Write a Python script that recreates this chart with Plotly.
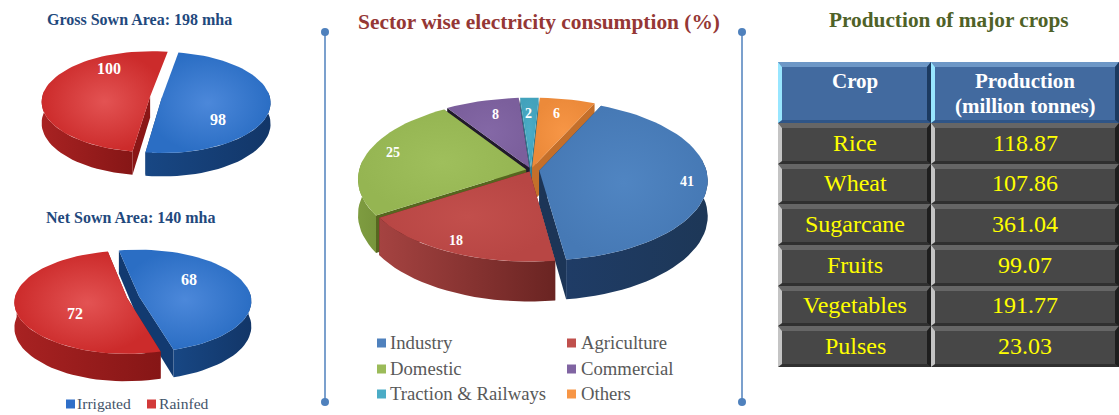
import math
import plotly.graph_objects as go

# ---------------- data ----------------
area_labels = ["Irrigated", "Rainfed"]
gross_values = [98, 100]
net_values = [68, 72]
sector_labels = ["Industry", "Agriculture", "Domestic", "Commercial", "Traction & Railways", "Others"]
sector_values = [41, 18, 25, 8, 2, 6]
crop_names = ["Rice", "Wheat", "Sugarcane", "Fruits", "Vegetables", "Pulses"]
crop_production = ["118.87", "107.86", "361.04", "99.07", "191.77", "23.03"]

SERIF = "Liberation Serif"

# ---------------- slice styles ----------------
AREA_STYLES = [
    dict(top=("#4c88da", "#2b6ec4"), wall=("#184784", "#123668"), cut="#123a70"),
    dict(top=("#e35353", "#cc2b2b"), wall=("#a82222", "#861616"), cut="#8a1616"),
]
SECTOR_STYLES = [
    dict(top=("#5085c2", "#4679b5"), wall=("#1f3c66", "#1d3757"), cut="#1c3557"),
    dict(top=("#c24f4c", "#b84644"), wall=("#a54341", "#6a2422"), cut="#6a2422"),
    dict(top=("#9fbf5c", "#95b552"), wall=("#7e9c40", "#78953c"), cut="#56661f"),
    dict(top=("#8468a6", "#7b5f9c"), wall=("#5d4678", "#5d4678"), cut="#211a2c"),
    dict(top=("#4bacc6", "#42a2bc"), wall=("#2f8097", "#2f8097"), cut="#2f7b90"),
    dict(top=("#f79646", "#ec8a3a"), wall=("#c9732c", "#c9732c"), cut="#c46f2a"),
]

fig = go.Figure()
annotations = []
shapes = []


def add_text(x, y, text, size, color, bold=False, anchor="center", family=SERIF):
    body = f"<b>{text}</b>" if bold else text
    annotations.append(dict(
        x=x, y=y, xref="x", yref="y", text=body, showarrow=False,
        xanchor=anchor, yanchor="middle", align="center",
        font=dict(family=family, size=size, color=color),
    ))


def add_poly(xs, ys, colors, kind):
    if isinstance(colors, str):
        extra = dict(fillcolor=colors)
    else:
        extra = dict(fillgradient=dict(type=kind, colorscale=[[0, colors[0]], [1, colors[1]]]))
    fig.add_trace(go.Scatter(
        x=xs + xs[:1], y=ys + ys[:1], mode="lines", fill="toself",
        line=dict(width=0), hoverinfo="skip", showlegend=False, **extra,
    ))


def draw_pie(values, styles, cx, cy, rx, ry, depth, persp, start, explode, label_spots, label_size,
             show_back_cuts=True):
    """Draw a tilted, extruded pie whose slice angles come from the values."""
    total = sum(values)

    def project(u, v, low=False):
        s = 1 / (1 + persp * v)
        return cx + rx * u * s, cy - ry * v * s + (depth * s if low else 0)

    slices = []
    angle = start
    for i, value in enumerate(values):
        sweep = 360 * value / total
        slices.append((i, angle, angle + sweep))
        angle += sweep

    def depth_key(item):
        return math.cos(math.radians((item[1] + item[2]) / 2))

    for i, a0, a1 in sorted(slices, key=depth_key, reverse=True):
        mid = math.radians((a0 + a1) / 2)
        u0 = explode[i] * math.sin(mid)
        v0 = explode[i] * math.cos(mid)
        steps = max(4, int((a1 - a0) / 3))
        rim = []
        for k in range(steps + 1):
            t = math.radians(a0 + (a1 - a0) * k / steps)
            rim.append((u0 + math.sin(t), v0 + math.cos(t)))
        style = styles[i]

        # cut faces running from the hub to both ends of the arc
        for end in (rim[0], rim[-1]):
            if not show_back_cuts and end[1] > v0:
                continue
            pts = [project(u0, v0), project(*end), project(*end, low=True), project(u0, v0, low=True)]
            add_poly([p[0] for p in pts], [p[1] for p in pts], style["cut"], None)

        # outer wall, only on the part of the arc that faces the viewer
        front = [(u, v) for u, v in rim if v - v0 < 0.15]
        if len(front) > 1:
            upper = [project(u, v) for u, v in front]
            lower = [project(u, v, low=True) for u, v in reversed(front)]
            pts = upper + lower
            add_poly([p[0] for p in pts], [p[1] for p in pts], style["wall"], "horizontal")

        # top face
        pts = [project(u0, v0)] + [project(u, v) for u, v in rim]
        add_poly([p[0] for p in pts], [p[1] for p in pts], style["top"], "radial")

    for value, (deg, radius) in zip(values, label_spots):
        t = math.radians(deg)
        x, y = project(radius * math.sin(t), radius * math.cos(t))
        add_text(x, y, str(value), label_size, "#ffffff", bold=True)


# ---------------- left pies ----------------
add_text(139, 19, "Gross Sown Area: 198 mha", 16, "#1f497d", bold=True)
draw_pie(gross_values, AREA_STYLES, 156, 97, 108, 50, 21, 0.10, 10, [0.055, 0.055],
         [(128, 0.70), (323, 0.76)], 16, show_back_cuts=False)

add_text(130, 217, "Net Sown Area: 140 mha", 16, "#1f497d", bold=True)
draw_pie(net_values, AREA_STYLES, 133, 297, 112, 51, 25, 0.09, -11, [0.055, 0.055],
         [(56, 0.62), (238, 0.59)], 16)

for x, name, color, tx in ((70.5, area_labels[0], "#2f6fc8", 75), (151.5, area_labels[1], "#d23a3a", 157)):
    fig.add_trace(go.Scatter(x=[x], y=[404], mode="markers", hoverinfo="skip", showlegend=False,
                             marker=dict(symbol="square", size=9, color=color)))
    add_text(tx, 403, name, 15.6, "#44546a", anchor="left")

# ---------------- centre pie ----------------
add_text(539, 22, "Sector wise electricity consumption (%)", 21.4, "#953735", bold=True)
draw_pie(sector_values, SECTOR_STYLES, 531, 170, 167, 79, 35, 0.12, 24.6,
         [0.05, 0.02, 0.03, 0.03, 0.03, 0.03],
         [(99, 0.93), (207, 0.9), (285, 0.88), (343, 0.80), (359, 0.78), (12, 0.80)], 14)

legend_cols = [(381.5, 388), (571.5, 578.5)]
legend_rows = [343, 369, 394]
for i, (name, style_color) in enumerate(zip(sector_labels, ["#4f81bd", "#c0504d", "#9bbb59", "#8064a2", "#4bacc6", "#f79646"])):
    mx, tx = legend_cols[i % 2]
    my = legend_rows[i // 2]
    fig.add_trace(go.Scatter(x=[mx], y=[my], mode="markers", hoverinfo="skip", showlegend=False,
                             marker=dict(symbol="square", size=9, color=style_color)))
    add_text(tx, my - 1, name, 18.7, "#595959", anchor="left")

# ---------------- divider rules ----------------
for x in (325, 742):
    shapes.append(dict(type="line", x0=x, x1=x, y0=32, y1=402, line=dict(color="#4f81bd", width=1.5)))
    fig.add_trace(go.Scatter(x=[x, x], y=[32, 402], mode="markers", hoverinfo="skip", showlegend=False,
                             marker=dict(size=8, color="#4f81bd")))

# ---------------- crop table ----------------
add_text(949, 20, "Production of major crops", 21.3, "#4f6228", bold=True)

col_edges = [778, 931, 1119]
col_centers = [855, 1025]
row_edges = [62, 123, 164, 204, 245, 286, 326, 367]
HEAD = dict(body="#426a9f", top="#6d97c6", left="#98e6ff", right="#1c3a60", bottom="#2f5587")
ROW = dict(body="#474747", top="#666666", left="#c4c4c4", right="#1e1e1e", bottom="#303030")


def add_cell(x0, x1, y0, y1, palette):
    lw, rw, tw, bw = 4, 4, 5, 3
    def path(points):
        return "M " + " L ".join(f"{px},{py}" for px, py in points) + " Z"
    shapes.append(dict(type="rect", x0=x0, x1=x1, y0=y0, y1=y1, fillcolor=palette["body"], line=dict(width=0), layer="below"))
    bands = [
        ("top", [(x0, y0), (x1, y0), (x1 - rw, y0 + tw), (x0 + lw, y0 + tw)]),
        ("bottom", [(x0, y1), (x1, y1), (x1 - rw, y1 - bw), (x0 + lw, y1 - bw)]),
        ("left", [(x0, y0), (x0 + lw, y0 + tw), (x0 + lw, y1 - bw), (x0, y1)]),
        ("right", [(x1, y0), (x1 - rw, y0 + tw), (x1 - rw, y1 - bw), (x1, y1)]),
    ]
    for name, pts in bands:
        shapes.append(dict(type="path", path=path(pts), fillcolor=palette[name], line=dict(width=0), layer="below"))


for c in range(2):
    add_cell(col_edges[c], col_edges[c + 1], row_edges[0], row_edges[1], HEAD)
    for r in range(6):
        add_cell(col_edges[c], col_edges[c + 1], row_edges[r + 1], row_edges[r + 2], ROW)

add_text(col_centers[0], 81, "Crop", 21, "#ffffff", bold=True)
add_text(col_centers[1], 81, "Production", 21, "#ffffff", bold=True)
add_text(col_centers[1], 106, "(million tonnes)", 21, "#ffffff", bold=True)
for r, (crop, amount) in enumerate(zip(crop_names, crop_production)):
    y = (row_edges[r + 1] + row_edges[r + 2]) / 2 - 1
    add_text(col_centers[0], y, crop, 24, "#ffff00")
    add_text(col_centers[1], y, amount, 24, "#ffff00")

fig.update_layout(
    width=1119, height=415, margin=dict(l=0, r=0, t=0, b=0),
    paper_bgcolor="#ffffff", plot_bgcolor="#ffffff", showlegend=False,
    xaxis=dict(range=[0, 1119], visible=False, fixedrange=True),
    yaxis=dict(range=[415, 0], visible=False, fixedrange=True),
    annotations=annotations, shapes=shapes,
)
fig.write_html("out.html", config=dict(displayModeBar=False))
